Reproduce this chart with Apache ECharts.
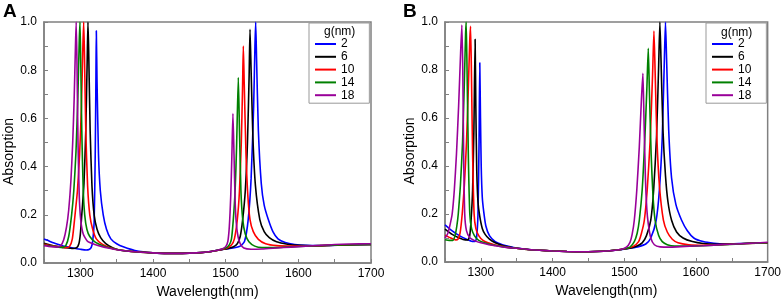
<!DOCTYPE html>
<html><head><meta charset="utf-8">
<script src="https://cdn.jsdelivr.net/npm/echarts@6/dist/echarts.min.js"></script>
<style>html,body{margin:0;padding:0;background:#fff}#c{width:784px;height:306px}</style>
</head><body><div id="c"></div>
<script>
const panelLetters = ['A', 'B'];
const legendTitle = 'g(nm)';
const gapNames = ['2', '6', '10', '14', '18'];
const xLabels = [1300, 1400, 1500, 1600, 1700];
const yLabels = [0.0, 0.2, 0.4, 0.6, 0.8, 1.0];

// Panel A: [wavelength nm, absorption]
const a2 = [[1250,0.1],[1255,0.094],[1260,0.087],[1270,0.077],[1280,0.068],[1290,0.062],[1300,0.057],[1308,0.054],[1312,0.056],[1315,0.065],[1317,0.09],[1319,0.17],[1320.5,0.45],[1321.5,0.78],[1322,0.964],[1323,0.75],[1325,0.45],[1327.5,0.3],[1331.5,0.2],[1336,0.14],[1342,0.1],[1350,0.08],[1360,0.066],[1375,0.052],[1400,0.042],[1420,0.04],[1440,0.04],[1460,0.042],[1480,0.048],[1490,0.053],[1500,0.058],[1510,0.062],[1520,0.07],[1526,0.09],[1531,0.18],[1535,0.35],[1538.5,0.65],[1540.3,0.9],[1541.3,1.0],[1542.5,0.85],[1545,0.55],[1549,0.33],[1553,0.24],[1558.7,0.18],[1565,0.13],[1572,0.1],[1582,0.085],[1595,0.077],[1610,0.073],[1630,0.072],[1660,0.074],[1700,0.077]];
const a6 = [[1250,0.082],[1260,0.074],[1270,0.068],[1280,0.063],[1290,0.06],[1295,0.064],[1298,0.08],[1300,0.12],[1302,0.2],[1305,0.33],[1307.5,0.55],[1309.5,0.85],[1310.5,1.0],[1311.5,0.88],[1313.5,0.55],[1316,0.32],[1319,0.2],[1323,0.14],[1328,0.105],[1335,0.08],[1345,0.062],[1355,0.053],[1375,0.047],[1400,0.042],[1420,0.04],[1440,0.04],[1460,0.042],[1480,0.048],[1490,0.053],[1500,0.058],[1510,0.066],[1516,0.08],[1520,0.11],[1523.4,0.18],[1527,0.3],[1530,0.5],[1532.3,0.78],[1533.5,0.97],[1535,0.8],[1537.5,0.52],[1541,0.32],[1547,0.18],[1553,0.13],[1560,0.105],[1570,0.088],[1585,0.078],[1600,0.073],[1620,0.071],[1650,0.074],[1700,0.077]];
const a10 = [[1250,0.078],[1260,0.072],[1270,0.067],[1280,0.064],[1285,0.068],[1289,0.1],[1292.7,0.2],[1296,0.3],[1299,0.45],[1301.5,0.65],[1303.5,0.9],[1304.6,1.0],[1305.6,0.88],[1307.5,0.55],[1310,0.32],[1313,0.2],[1317,0.14],[1322,0.1],[1330,0.078],[1340,0.064],[1350,0.056],[1370,0.048],[1400,0.042],[1420,0.04],[1440,0.04],[1460,0.042],[1480,0.048],[1490,0.053],[1500,0.06],[1508,0.075],[1512,0.1],[1516,0.18],[1519,0.3],[1521.5,0.5],[1523.2,0.72],[1524.3,0.9],[1525.5,0.75],[1528,0.45],[1530.5,0.28],[1533.5,0.18],[1538,0.13],[1545,0.098],[1555,0.08],[1570,0.072],[1590,0.07],[1610,0.07],[1640,0.073],[1670,0.076],[1700,0.077]];
const a14 = [[1250,0.075],[1260,0.07],[1270,0.066],[1276,0.065],[1280,0.072],[1284,0.11],[1288,0.2],[1291,0.3],[1294,0.46],[1296.5,0.68],[1298.5,0.92],[1299.5,1.0],[1300.5,0.85],[1302,0.55],[1304,0.3],[1306,0.2],[1309,0.14],[1313,0.11],[1320,0.088],[1330,0.073],[1340,0.063],[1350,0.056],[1370,0.048],[1400,0.042],[1420,0.04],[1440,0.04],[1460,0.042],[1480,0.048],[1490,0.054],[1500,0.062],[1505,0.075],[1508,0.1],[1510.5,0.18],[1513,0.3],[1515,0.48],[1517.4,0.77],[1519,0.55],[1521,0.3],[1523.5,0.18],[1527,0.12],[1532,0.088],[1540,0.07],[1550,0.064],[1570,0.064],[1590,0.067],[1610,0.07],[1630,0.072],[1660,0.075],[1700,0.077]];
const a18 = [[1250,0.072],[1260,0.068],[1268,0.066],[1273,0.072],[1277,0.095],[1281,0.15],[1284,0.22],[1287,0.34],[1289.5,0.5],[1291.5,0.68],[1293.3,0.9],[1294.3,1.0],[1295.3,0.85],[1296.8,0.5],[1298.5,0.28],[1300.5,0.18],[1304,0.12],[1310,0.09],[1320,0.077],[1330,0.068],[1340,0.061],[1350,0.055],[1370,0.048],[1400,0.042],[1420,0.04],[1440,0.04],[1460,0.042],[1480,0.048],[1490,0.054],[1495,0.058],[1500,0.068],[1503,0.09],[1505,0.15],[1507,0.28],[1508.5,0.44],[1510,0.62],[1511.5,0.45],[1513,0.26],[1514.5,0.17],[1517,0.11],[1520,0.08],[1525,0.062],[1535,0.057],[1550,0.058],[1570,0.062],[1590,0.066],[1610,0.07],[1630,0.073],[1650,0.077],[1670,0.079],[1700,0.08]];

// Panel B: [wavelength nm, absorption]
const b2 = [[1250,0.155],[1260,0.13],[1270,0.11],[1280,0.095],[1288,0.086],[1292,0.086],[1294,0.1],[1296,0.2],[1297.5,0.5],[1298.5,0.83],[1299.5,0.6],[1300.5,0.4],[1302,0.27],[1304,0.21],[1307,0.15],[1312,0.11],[1320,0.085],[1330,0.072],[1340,0.064],[1350,0.058],[1370,0.051],[1400,0.046],[1420,0.044],[1440,0.043],[1460,0.044],[1480,0.047],[1495,0.051],[1510,0.058],[1520,0.064],[1530,0.075],[1537,0.1],[1544.5,0.174],[1549,0.3],[1553,0.52],[1556,0.85],[1557.5,1.0],[1559,0.85],[1562,0.55],[1566,0.35],[1572,0.24],[1580,0.174],[1588,0.13],[1597,0.1],[1610,0.085],[1625,0.078],[1640,0.075],[1670,0.078],[1700,0.08]];
const b6 = [[1250,0.137],[1260,0.115],[1270,0.1],[1278,0.092],[1282,0.092],[1284.5,0.11],[1286.5,0.18],[1288.5,0.3],[1290.3,0.55],[1292,0.928],[1293,0.65],[1294.3,0.38],[1296,0.25],[1298.5,0.19],[1302,0.14],[1306,0.115],[1312,0.095],[1320,0.08],[1330,0.069],[1340,0.062],[1350,0.057],[1370,0.051],[1400,0.046],[1420,0.044],[1440,0.043],[1460,0.044],[1480,0.047],[1495,0.052],[1505,0.056],[1515,0.064],[1525,0.08],[1531,0.11],[1537,0.174],[1541,0.3],[1545,0.52],[1548,0.82],[1549.7,1.0],[1551.2,0.85],[1554,0.55],[1557.5,0.36],[1561,0.25],[1566,0.174],[1573,0.125],[1582,0.1],[1595,0.085],[1610,0.077],[1630,0.074],[1660,0.076],[1700,0.08]];
const b10 = [[1250,0.112],[1258,0.1],[1265,0.092],[1268,0.095],[1271,0.12],[1274,0.2],[1277,0.32],[1280,0.5],[1282.5,0.72],[1284.5,0.92],[1285.6,0.982],[1286.8,0.8],[1288.5,0.45],[1290.6,0.2],[1293,0.14],[1297,0.11],[1303,0.09],[1310,0.08],[1320,0.071],[1330,0.065],[1340,0.06],[1350,0.057],[1370,0.051],[1400,0.046],[1420,0.044],[1440,0.043],[1460,0.044],[1480,0.047],[1495,0.052],[1500,0.055],[1512,0.064],[1520,0.085],[1524,0.12],[1528,0.174],[1532,0.3],[1536,0.5],[1539.5,0.78],[1541.4,0.962],[1543,0.8],[1545.5,0.52],[1549,0.32],[1554.6,0.174],[1560,0.125],[1567,0.095],[1575,0.08],[1590,0.072],[1610,0.07],[1640,0.073],[1670,0.077],[1700,0.08]];
const b14 = [[1250,0.093],[1256,0.09],[1261,0.09],[1264,0.11],[1266.5,0.15],[1268.5,0.2],[1271.5,0.32],[1274.5,0.5],[1277,0.75],[1278.7,0.95],[1279.5,1.0],[1280.5,0.85],[1282.5,0.45],[1284.6,0.2],[1287,0.14],[1291,0.11],[1297,0.09],[1305,0.08],[1315,0.072],[1330,0.064],[1340,0.06],[1350,0.057],[1370,0.051],[1400,0.046],[1420,0.044],[1440,0.043],[1460,0.044],[1480,0.047],[1495,0.052],[1500,0.055],[1508,0.062],[1514,0.085],[1518,0.12],[1521,0.174],[1525,0.3],[1528.5,0.5],[1531.5,0.72],[1533.5,0.89],[1535,0.72],[1537.5,0.45],[1540,0.28],[1543,0.174],[1548,0.11],[1553,0.085],[1560,0.072],[1570,0.066],[1590,0.066],[1610,0.068],[1640,0.072],[1670,0.077],[1700,0.08]];
const b18 = [[1250,0.1],[1254,0.12],[1257,0.155],[1260,0.2],[1263,0.3],[1266,0.45],[1269,0.65],[1271.5,0.85],[1273.5,0.987],[1274.8,0.8],[1276,0.45],[1277.5,0.2],[1280,0.13],[1285,0.1],[1292,0.088],[1300,0.08],[1310,0.073],[1320,0.068],[1335,0.061],[1350,0.057],[1370,0.051],[1400,0.046],[1420,0.044],[1440,0.043],[1460,0.044],[1480,0.047],[1495,0.052],[1503,0.062],[1508,0.082],[1511,0.115],[1514,0.174],[1517.5,0.3],[1521,0.48],[1524,0.68],[1526,0.786],[1527.5,0.6],[1529.5,0.35],[1531.5,0.22],[1533.5,0.16],[1537,0.1],[1542,0.072],[1550,0.063],[1565,0.062],[1585,0.065],[1610,0.068],[1640,0.073],[1670,0.077],[1700,0.082]];

const panelA = [a2, a6, a10, a14, a18];
const panelB = [b2, b6, b10, b14, b18];

const font = 'Arial, "Liberation Sans", sans-serif';
const colors = ['#0000ff', '#000000', '#ff0000', '#008000', '#990099'];
const gray = '#808080';

function xAxisCfg(gi) {
  return {
    type: 'value', gridIndex: gi, min: 1250, max: 1700, interval: 50,
    name: 'Wavelength(nm)', nameLocation: 'middle', nameGap: 16,
    nameTextStyle: { fontSize: 14, fontFamily: font, color: '#000' },
    axisLine: { show: true, lineStyle: { color: gray, width: 1.5 } },
    axisTick: { show: true, inside: true, length: 4, lineStyle: { color: gray, width: 1 } },
    axisLabel: { fontSize: 12, fontFamily: font, color: '#000', margin: 5,
      formatter: v => xLabels.includes(Math.round(v)) ? String(Math.round(v)) : '' },
    splitLine: { show: false }
  };
}
function yAxisCfg(gi) {
  return {
    type: 'value', gridIndex: gi, min: 0, max: 1, interval: 0.1,
    name: 'Absorption', nameLocation: 'middle', nameGap: 28,
    nameTextStyle: { fontSize: 14, fontFamily: font, color: '#000', padding: [0, 18, 0, 0] },
    axisLine: { show: true, lineStyle: { color: gray, width: 1.5 } },
    axisTick: { show: true, inside: true, length: 4, lineStyle: { color: gray, width: 1 } },
    axisLabel: { fontSize: 12, fontFamily: font, color: '#000', margin: 7,
      formatter: v => { const r = Math.round(v * 10) / 10; return (Math.round(v * 10) % 2 === 0 && yLabels.includes(r)) ? r.toFixed(1) : ''; } },
    splitLine: { show: false }
  };
}
function legendCfg(left, top) {
  return {
    left: left, top: top, orient: 'vertical', data: gapNames,
    icon: 'rect', itemWidth: 21, itemHeight: 2, itemGap: 0.8,
    padding: [15, 15, 2, 6],
    borderColor: '#999', borderWidth: 1, backgroundColor: '#fff',
    textStyle: { fontSize: 12, fontFamily: font, color: '#000', lineHeight: 12 }
  };
}
const series = [];
[panelA, panelB].forEach((panel, gi) => {
  panel.forEach((d, i) => {
    series.push({
      name: gapNames[i], type: 'line', xAxisIndex: gi, yAxisIndex: gi,
      data: d, showSymbol: false, symbol: 'none', smooth: 0.2,
      lineStyle: { color: colors[i], width: 1.6 }, itemStyle: { color: colors[i] },
      animation: false, z: 2 + i
    });
  });
});

const chart = echarts.init(document.getElementById('c'), null, { renderer: 'canvas' });
chart.setOption({
  animation: false,
  backgroundColor: '#fff',
  grid: [
    { left: 44, top: 22, width: 327, height: 241, show: true, borderColor: gray, borderWidth: 1.5 },
    { left: 445, top: 22, width: 325, height: 240, show: true, borderColor: gray, borderWidth: 1.5 }
  ],
  xAxis: [xAxisCfg(0), xAxisCfg(1)],
  yAxis: [yAxisCfg(0), yAxisCfg(1)],
  legend: [legendCfg(309, 23), legendCfg(706, 23)],
  graphic: [
    { type: 'text', left: 3, top: 2, style: { text: panelLetters[0], font: 'bold 19px ' + font, fill: '#000' } },
    { type: 'text', left: 403, top: 2, style: { text: panelLetters[1], font: 'bold 19px ' + font, fill: '#000' } },
    { type: 'text', left: 324, top: 26, z: 100, style: { text: legendTitle, font: '12px ' + font, fill: '#000' } },
    { type: 'text', left: 721, top: 27, z: 100, style: { text: legendTitle, font: '12px ' + font, fill: '#000' } }
  ],
  series: series
});
</script>
</body></html>
